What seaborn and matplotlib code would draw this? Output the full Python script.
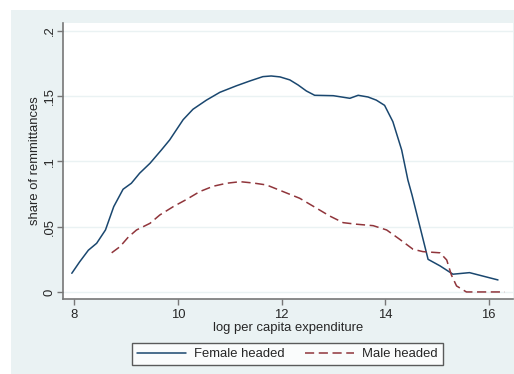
import matplotlib
matplotlib.use("Agg")
import matplotlib.pyplot as plt
import seaborn as sns
import pandas as pd
from matplotlib.patches import Rectangle

female_x = [7.95, 8.10, 8.27, 8.43, 8.60, 8.76, 8.94, 9.10, 9.26, 9.46, 9.68, 9.84,
            10.10, 10.29, 10.55, 10.81, 11.13, 11.39, 11.64, 11.80, 11.97, 12.16, 12.32,
            12.48, 12.64, 13.0, 13.32, 13.48, 13.67, 13.83, 13.99, 14.15, 14.32, 14.44,
            14.52, 14.83, 15.06, 15.31, 15.63, 16.18]
female_y = [.0143, .023, .032, .0373, .0475, .0654, .0787, .0833, .091, .0986, .1088, .1165,
            .132, .140, .147, .153, .158, .1617, .165, .1655, .1648, .1625, .1586,
            .154, .1507, .1504, .1484, .1507, .1494, .147, .143, .1305, .1088, .0858,
            .0743, .025, .020, .0136, .0148, .0092]
male_x = [8.72, 8.88, 9.04, 9.20, 9.46, 9.65, 9.91, 10.17, 10.42, 10.68, 10.94, 11.20,
          11.45, 11.71, 12.03, 12.35, 12.68, 12.93, 13.19, 13.45, 13.77, 14.03, 14.28,
          14.54, 14.73, 15.06, 15.19, 15.28, 15.38, 15.57, 16.31]
male_y = [.030, .0347, .042, .0475, .0526, .059, .0654, .071, .0769, .081, .0833, .0845,
          .0835, .082, .0769, .0718, .0641, .0582, .0531, .0519, .0508, .0475, .0404,
          .0327, .0309, .030, .0245, .013, .0046, .0, .0]

x_ticks = [8, 10, 12, 14, 16]
y_ticks = [0, 0.05, 0.1, 0.15, 0.2]
y_tick_labels = ["0", ".05", ".1", ".15", ".2"]
series_names = ["Female headed", "Male headed"]

sns.set_style("white")
plt.rcParams['font.family'] = ['Liberation Sans', 'DejaVu Sans']
FS = 9.4

W, H = 514, 374
fig = plt.figure(figsize=(W / 100, H / 100), dpi=100)
fig.patches.append(Rectangle((11 / W, 0), 1, (H - 10) / H, transform=fig.transFigure,
                             facecolor="#EAF2F3", edgecolor="none", zorder=-10))
ax = fig.add_axes([63 / W, (H - 299) / H, 450 / W, 276 / H])
ax.set_zorder(5)
ax.set_facecolor("white")

fem = pd.DataFrame({"x": female_x, "y": female_y})
mal = pd.DataFrame({"x": male_x, "y": male_y})
sns.lineplot(data=fem, x="x", y="y", ax=ax, color="#1a476f", lw=1.1, sort=False,
             estimator=None, label=series_names[0])
sns.lineplot(data=mal, x="x", y="y", ax=ax, color="#90353b", lw=1.1, sort=False,
             estimator=None, label=series_names[1], dashes=False)
ax.lines[1].set_dashes([6, 3])

ax.set_xlim(7.78, 16.47)
ax.set_ylim(-0.0054, 0.2061)
ax.set_xticks(x_ticks)
ax.set_xticklabels([str(t) for t in x_ticks], fontsize=FS)
ax.set_yticks(y_ticks)
ax.set_yticklabels(y_tick_labels, fontsize=FS, rotation=90, va="center")
ax.yaxis.grid(True, color="#EAF2F3", lw=1.0)
ax.set_axisbelow(True)
for s in ["top", "right"]:
    ax.spines[s].set_visible(False)
for s in ["left", "bottom"]:
    ax.spines[s].set_color("#777777")
    ax.spines[s].set_linewidth(1.2)
ax.tick_params(axis="both", which="major", direction="out", length=4.3, width=1.0,
               color="#777777", left=True, bottom=True, labelsize=FS)
ax.tick_params(axis="y", pad=0.8)
ax.tick_params(axis="x", pad=3)
ax.set_xlabel("log per capita expenditure", fontsize=FS, va="center")
ax.xaxis.set_label_coords(0.5, (299 - 327.7) / 276)
ax.set_ylabel("share of remmittances", fontsize=FS, va="center")
ax.yaxis.set_label_coords((35 - 63) / 450, 0.5)

ax.get_legend().remove()
handles, labels = ax.get_legend_handles_labels()
leg = fig.legend(handles, labels, loc="center", bbox_to_anchor=(287.5 / W, (H - 354) / H),
                 ncol=2, fontsize=FS, frameon=True, fancybox=False, handlelength=3.75,
                 columnspacing=1.6, handletextpad=0.6, borderpad=0.4, borderaxespad=0)
leg.get_frame().set_edgecolor("#333333")
leg.get_frame().set_linewidth(1.0)
leg.get_frame().set_facecolor("white")

fig.savefig("out.png", dpi=100, facecolor="white")
